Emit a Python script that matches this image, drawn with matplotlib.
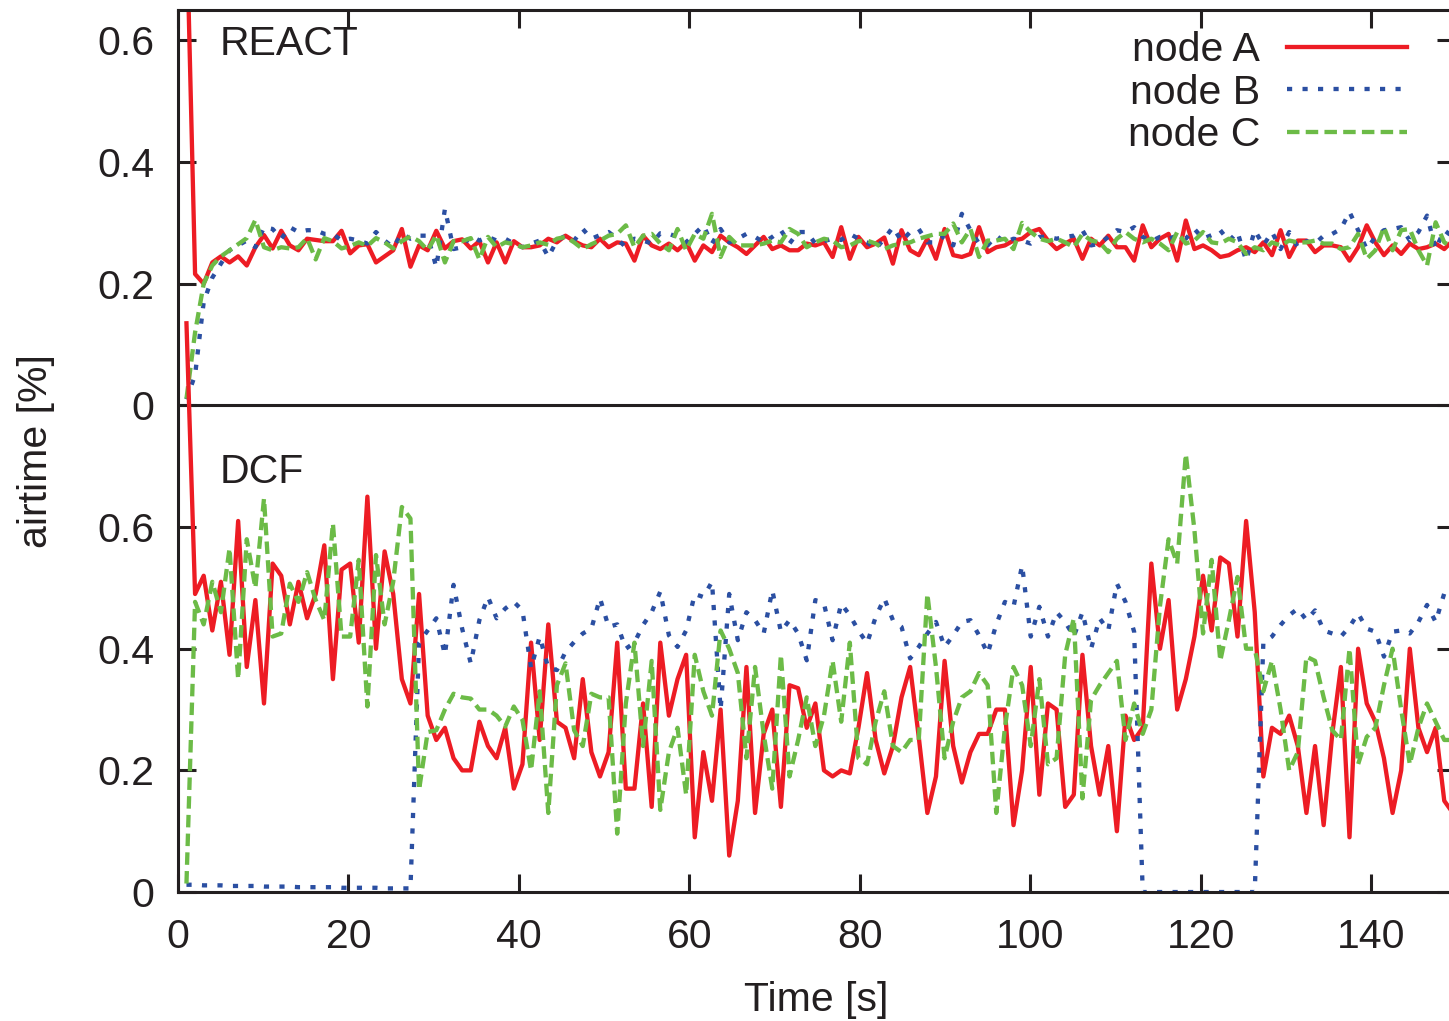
import matplotlib
matplotlib.use("Agg")
import matplotlib.pyplot as plt
import numpy as np

plt.rcParams['font.family'] = ['Liberation Sans', 'DejaVu Sans']

# one sample per ~1 s, first sample at t = 1 s
t0 = 1.0
dt = 1.0106
react_offset = 0.8   # REACT panel sits on top of the DCF panel

nodes = ["node A", "node B", "node C"]
colors = ["#ed1c24", "#2b4fa2", "#6cbb47"]

# ---- REACT airtime ----
react_a = [
    0.80, 0.216, 0.20, 0.235, 0.245, 0.235, 0.245, 0.23, 0.26, 0.28,
    0.258, 0.287, 0.263, 0.255, 0.274, 0.272, 0.27, 0.27, 0.287, 0.25,
    0.263, 0.265, 0.235, 0.245, 0.255, 0.29, 0.228, 0.263, 0.255, 0.287,
    0.258, 0.27, 0.273, 0.258, 0.27, 0.235, 0.268, 0.235, 0.27, 0.26,
    0.26, 0.263, 0.274, 0.268, 0.279, 0.27, 0.263, 0.26, 0.274, 0.26,
    0.268, 0.266, 0.238, 0.279, 0.263, 0.257, 0.266, 0.255, 0.268, 0.238,
    0.263, 0.252, 0.279, 0.268, 0.26, 0.249, 0.263, 0.277, 0.257, 0.263,
    0.255, 0.255, 0.266, 0.263, 0.268, 0.244, 0.293, 0.241, 0.277, 0.26,
    0.266, 0.276, 0.233, 0.288, 0.255, 0.247, 0.274, 0.241, 0.29, 0.247,
    0.244, 0.249, 0.293, 0.252, 0.26, 0.263, 0.271, 0.274, 0.285, 0.29,
    0.271, 0.257, 0.266, 0.274, 0.241, 0.274, 0.263, 0.279, 0.26, 0.26,
    0.238, 0.296, 0.26, 0.274, 0.282, 0.238, 0.304, 0.257, 0.263, 0.255,
    0.244, 0.247, 0.255, 0.26, 0.252, 0.268, 0.247, 0.288, 0.244, 0.271,
    0.271, 0.252, 0.263, 0.263, 0.26, 0.238, 0.26, 0.296, 0.268, 0.247,
    0.263, 0.249, 0.266, 0.257, 0.26, 0.266, 0.257, 0.271,
]
react_b = [
    0.01, 0.05, 0.17, 0.21, 0.233, 0.255, 0.263, 0.271, 0.26, 0.293,
    0.29, 0.274, 0.293, 0.285, 0.288, 0.288, 0.282, 0.282, 0.271, 0.274,
    0.271, 0.266, 0.285, 0.271, 0.26, 0.282, 0.274, 0.279, 0.279, 0.227,
    0.323, 0.257, 0.26, 0.279, 0.271, 0.277, 0.271, 0.274, 0.266, 0.26,
    0.266, 0.271, 0.244, 0.271, 0.279, 0.271, 0.29, 0.274, 0.28, 0.285,
    0.274, 0.26, 0.274, 0.271, 0.266, 0.283, 0.282, 0.277, 0.268, 0.282,
    0.296, 0.266, 0.29, 0.268, 0.274, 0.282, 0.277, 0.268, 0.277, 0.288,
    0.266, 0.285, 0.285, 0.266, 0.27, 0.274, 0.272, 0.282, 0.274, 0.268,
    0.257, 0.274, 0.293, 0.27, 0.285, 0.29, 0.268, 0.268, 0.279, 0.263,
    0.315, 0.288, 0.266, 0.263, 0.279, 0.268, 0.274, 0.271, 0.266, 0.277,
    0.277, 0.274, 0.277, 0.279, 0.288, 0.263, 0.266, 0.277, 0.288, 0.285,
    0.293, 0.277, 0.27, 0.277, 0.274, 0.279, 0.274, 0.29, 0.274, 0.28,
    0.288, 0.27, 0.285, 0.238, 0.288, 0.263, 0.285, 0.257, 0.285, 0.26,
    0.27, 0.266, 0.279, 0.282, 0.29, 0.318, 0.288, 0.257, 0.277, 0.288,
    0.29, 0.293, 0.271, 0.285, 0.312, 0.257, 0.288, 0.277,
]
react_c = [
    0.011, 0.12, 0.20, 0.23, 0.245, 0.255, 0.265, 0.275, 0.305, 0.26,
    0.255, 0.26, 0.258, 0.26, 0.275, 0.24, 0.275, 0.27, 0.258, 0.262,
    0.268, 0.262, 0.275, 0.268, 0.258, 0.27, 0.278, 0.27, 0.255, 0.28,
    0.235, 0.27, 0.27, 0.275, 0.24, 0.277, 0.26, 0.268, 0.265, 0.26,
    0.263, 0.268, 0.264, 0.274, 0.277, 0.268, 0.257, 0.265, 0.271, 0.279,
    0.282, 0.296, 0.26, 0.279, 0.282, 0.266, 0.255, 0.29, 0.255, 0.282,
    0.274, 0.315, 0.244, 0.277, 0.263, 0.263, 0.263, 0.266, 0.271, 0.268,
    0.29, 0.282, 0.26, 0.268, 0.274, 0.271, 0.26, 0.263, 0.27, 0.271,
    0.266, 0.257, 0.263, 0.266, 0.268, 0.274, 0.278, 0.282, 0.282, 0.299,
    0.268, 0.29, 0.244, 0.271, 0.271, 0.274, 0.257, 0.30, 0.285, 0.274,
    0.27, 0.274, 0.268, 0.26, 0.282, 0.271, 0.268, 0.252, 0.274, 0.285,
    0.274, 0.268, 0.274, 0.266, 0.255, 0.285, 0.266, 0.271, 0.285, 0.268,
    0.266, 0.274, 0.268, 0.249, 0.26, 0.255, 0.268, 0.263, 0.271, 0.268,
    0.268, 0.271, 0.266, 0.266, 0.257, 0.26, 0.282, 0.241, 0.255, 0.293,
    0.255, 0.288, 0.29, 0.255, 0.23, 0.301, 0.268, 0.26,
]

# ---- DCF airtime ----
dcf_a = [
    0.935, 0.49, 0.52, 0.43, 0.51, 0.39, 0.61, 0.37, 0.48, 0.31,
    0.54, 0.52, 0.44, 0.51, 0.45, 0.49, 0.57, 0.35, 0.53, 0.54,
    0.41, 0.65, 0.40, 0.56, 0.49, 0.35, 0.31, 0.49, 0.29, 0.25,
    0.27, 0.22, 0.20, 0.20, 0.28, 0.24, 0.22, 0.27, 0.17, 0.21,
    0.41, 0.25, 0.44, 0.28, 0.27, 0.22, 0.35, 0.23, 0.19, 0.23,
    0.41, 0.17, 0.17, 0.31, 0.14, 0.41, 0.29, 0.35, 0.39, 0.09,
    0.23, 0.15, 0.30, 0.06, 0.15, 0.37, 0.13, 0.26, 0.30, 0.14,
    0.34, 0.335, 0.27, 0.31, 0.20, 0.19, 0.20, 0.195, 0.27, 0.36,
    0.25, 0.195, 0.24, 0.32, 0.37, 0.255, 0.13, 0.19, 0.38, 0.24,
    0.18, 0.23, 0.26, 0.26, 0.30, 0.30, 0.11, 0.20, 0.37, 0.16,
    0.31, 0.30, 0.14, 0.16, 0.39, 0.24, 0.16, 0.24, 0.10, 0.29,
    0.25, 0.27, 0.54, 0.40, 0.48, 0.30, 0.35, 0.42, 0.52, 0.43,
    0.55, 0.54, 0.42, 0.61, 0.46, 0.19, 0.27, 0.26, 0.29, 0.24,
    0.13, 0.24, 0.11, 0.26, 0.37, 0.09, 0.40, 0.31, 0.28, 0.22,
    0.13, 0.20, 0.40, 0.27, 0.23, 0.27, 0.15, 0.13,
]
dcf_b = [
    0.012, 0.012, 0.011, 0.011, 0.011, 0.010, 0.010, 0.010, 0.010, 0.009,
    0.009, 0.009, 0.009, 0.008, 0.008, 0.008, 0.008, 0.008, 0.007, 0.007,
    0.007, 0.007, 0.007, 0.006, 0.006, 0.006, 0.006, 0.41, 0.43, 0.45,
    0.39, 0.505, 0.433, 0.376, 0.447, 0.485, 0.45, 0.466, 0.477, 0.463,
    0.368, 0.42, 0.368, 0.365, 0.395, 0.411, 0.425, 0.433, 0.483, 0.436,
    0.44, 0.40, 0.41, 0.439, 0.46, 0.494, 0.422, 0.403, 0.43, 0.49,
    0.485, 0.51, 0.30, 0.49, 0.414, 0.46, 0.447, 0.425, 0.496, 0.428,
    0.447, 0.425, 0.381, 0.48, 0.474, 0.414, 0.474, 0.455, 0.43, 0.409,
    0.452, 0.483, 0.447, 0.436, 0.384, 0.403, 0.425, 0.444, 0.403, 0.422,
    0.444, 0.447, 0.422, 0.392, 0.44, 0.477, 0.469, 0.537, 0.42, 0.469,
    0.42, 0.46, 0.444, 0.42, 0.46, 0.40, 0.45, 0.43, 0.507, 0.477,
    0.428, 0.0, 0.0, 0.0, 0.0, 0.0, 0.0, 0.0, 0.0, 0.0,
    0.0, 0.0, 0.0, 0.0, 0.0, 0.41, 0.42, 0.439, 0.455, 0.466,
    0.447, 0.463, 0.43, 0.425, 0.42, 0.436, 0.458, 0.433, 0.428, 0.387,
    0.428, 0.43, 0.425, 0.444, 0.472, 0.444, 0.491, 0.49,
]
dcf_c = [
    0.014, 0.477, 0.44, 0.51, 0.46, 0.565, 0.35, 0.58, 0.50, 0.647,
    0.42, 0.425, 0.507, 0.477, 0.526, 0.48, 0.447, 0.606, 0.42, 0.42,
    0.546, 0.305, 0.554, 0.44, 0.51, 0.633, 0.614, 0.168, 0.263, 0.266,
    0.30, 0.326, 0.32, 0.318, 0.30, 0.30, 0.29, 0.272, 0.305, 0.283,
    0.20, 0.33, 0.13, 0.34, 0.376, 0.266, 0.24, 0.326, 0.32, 0.32,
    0.096, 0.31, 0.41, 0.24, 0.38, 0.135, 0.23, 0.27, 0.16, 0.39,
    0.33, 0.29, 0.43, 0.40, 0.36, 0.22, 0.37, 0.26, 0.17, 0.39,
    0.19, 0.25, 0.32, 0.24, 0.29, 0.38, 0.28, 0.41, 0.22, 0.21,
    0.28, 0.33, 0.24, 0.23, 0.25, 0.25, 0.49, 0.37, 0.22, 0.28,
    0.32, 0.33, 0.36, 0.34, 0.13, 0.27, 0.37, 0.34, 0.24, 0.35,
    0.21, 0.22, 0.39, 0.45, 0.154, 0.316, 0.34, 0.36, 0.38, 0.25,
    0.31, 0.26, 0.30, 0.47, 0.58, 0.54, 0.72, 0.595, 0.425, 0.546,
    0.38, 0.447, 0.518, 0.40, 0.40, 0.33, 0.38, 0.30, 0.20, 0.23,
    0.387, 0.38, 0.32, 0.266, 0.25, 0.40, 0.21, 0.255, 0.27, 0.34,
    0.40, 0.30, 0.21, 0.27, 0.31, 0.28, 0.25, 0.25,
]

ytick_pos = [0, 0.2, 0.4, 0.6, 0.8, 1.0, 1.2, 1.4]
ytick_labels = ["0", "0.2", "0.4", "0.6", "0", "0.2", "0.4", "0.6"]
xtick_pos = [0, 20, 40, 60, 80, 100, 120, 140]

styles = [
    dict(linestyle="-"),
    dict(linestyle=(0, (1.2, 2.4))),
    dict(linestyle=(0, (2.9, 1.45))),
]


def times(values):
    return t0 + dt * np.arange(len(values))


fs = 29.5
ink = "#231f20"
fig = plt.figure(figsize=(14.49, 10.21), dpi=100)
ax = fig.add_axes([0.1228, 0.1263, 0.8813, 0.8639])

handles = []
for vals, col, st, name in zip([react_a, react_b, react_c], colors, styles, nodes):
    v = np.array(vals) + react_offset
    h, = ax.plot(times(vals), v, color=col, lw=3.1, label=name, **st)
    handles.append(h)
for vals, col, st in zip([dcf_a, dcf_b, dcf_c], colors, styles):
    ax.plot(times(vals), vals, color=col, lw=3.1, **st)

ax.axhline(react_offset, color=ink, lw=2.2, zorder=1)

ax.set_xlim(0, 149.8)
ax.set_ylim(0, 1.45)
ax.set_xticks(xtick_pos)
ax.set_yticks(ytick_pos)
ax.set_yticklabels(ytick_labels)
ax.tick_params(direction="in", length=13, width=2.2, top=True, right=True,
               labelsize=fs, colors=ink)
ax.tick_params(axis="y", pad=17)
ax.tick_params(axis="x", pad=19)
for s in ax.spines.values():
    s.set_linewidth(2.2)
    s.set_color(ink)

ax.set_xlabel("Time [s]", fontsize=fs, color=ink)
ax.set_ylabel("airtime [%]", fontsize=fs, color=ink)
ax.xaxis.set_label_coords(0.5, -0.101)
ax.yaxis.set_label_coords(-0.096, 0.5)

ax.text(4.9, 1.376, "REACT", fontsize=fs, color=ink, va="baseline")
ax.text(4.9, 0.672, "DCF", fontsize=fs, color=ink, va="baseline")

ax.legend(handles=handles, loc="upper right",
          bbox_to_anchor=(1407 / 1449, 1 - 31 / 1021),
          bbox_transform=fig.transFigure, frameon=False, markerfirst=False,
          handlelength=2.93, handletextpad=0.65, labelspacing=0.11,
          borderpad=0, borderaxespad=0, fontsize=fs, labelcolor=ink)

fig.savefig("out.png", dpi=100)
